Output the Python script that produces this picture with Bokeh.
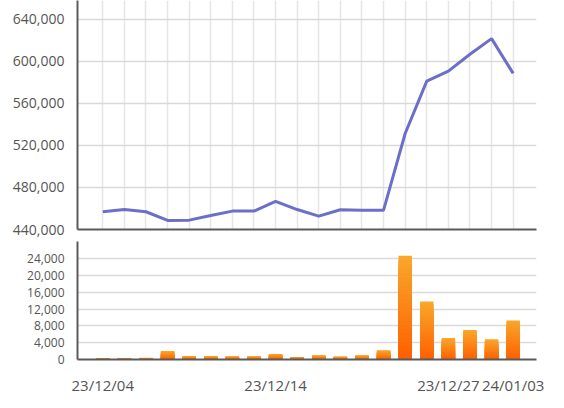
import numpy as np
from bokeh.plotting import figure
from bokeh.layouts import column
from bokeh.models import FixedTicker, NumeralTickFormatter, ColumnDataSource
from bokeh.embed import file_html
from bokeh.resources import INLINE

dates = ["23/12/04", "23/12/05", "23/12/06", "23/12/07", "23/12/08",
         "23/12/11", "23/12/12", "23/12/13", "23/12/14", "23/12/15",
         "23/12/18", "23/12/19", "23/12/20", "23/12/21", "23/12/22",
         "23/12/26", "23/12/27", "23/12/28", "24/01/02", "24/01/03"]
price = [456900, 459100, 456900, 448600, 448900, 453400, 457500, 457500, 466700, 459000,
         452700, 458800, 458400, 458400, 531400, 581300, 590800, 606800, 621700, 588600]
volume = [300, 350, 400, 2000, 800, 800, 750, 750, 1300, 600,
          1000, 700, 1000, 2200, 24700, 13800, 5100, 7000, 4800, 9300]
price_ticks = [440000, 480000, 520000, 560000, 600000, 640000]
volume_ticks = [0, 4000, 8000, 12000, 16000, 20000, 24000]
label_idx = [0, 8, 16, 19]

FONT = "Open Sans"
AXIS = "#5a5a5a"
TXT = "#555555"
x = list(range(len(dates)))
xr = (-1.17, 20.08)

top = figure(width=564, height=241, output_backend="svg", toolbar_location=None,
             x_range=xr, y_range=(440000, 658000),
             min_border_left=77, min_border_right=28, min_border_top=0, min_border_bottom=12)
top.outline_line_color = None
top.line(x, price, line_color="#6b6fc8", line_width=3)
top.yaxis.ticker = FixedTicker(ticks=price_ticks)
top.yaxis.formatter = NumeralTickFormatter(format="0,0")
top.xaxis.ticker = FixedTicker(ticks=[])
top.xaxis.major_label_text_font_size = "0px"
top.xgrid.ticker = FixedTicker(ticks=x)
top.xgrid.grid_line_color = "#e6e6e6"
top.xgrid.grid_line_width = 1.5
top.ygrid.grid_line_color = "#d9d9d9"
top.ygrid.grid_line_width = 1.5
for ax in (top.xaxis[0], top.yaxis[0]):
    ax.axis_line_color = AXIS
    ax.axis_line_width = 2
    ax.major_tick_out = 0
    ax.major_tick_in = 0
    ax.minor_tick_out = 0
    ax.minor_tick_in = 0
top.yaxis.major_label_text_font = FONT
top.yaxis.major_label_text_font_size = "14px"
top.yaxis.major_label_text_color = TXT
top.yaxis.major_label_standoff = 13

bot = figure(width=564, height=166, output_backend="svg", toolbar_location=None,
             x_range=xr, y_range=(0, 28100),
             min_border_left=77, min_border_right=28, min_border_top=0, min_border_bottom=48)
bot.outline_line_color = None
# vertical gradient per bar (light orange at top -> red-orange at bottom),
# drawn as overlapping bars from the base so that no seams show
N = 24
c_top = np.array([0xf9, 0xa8, 0x2c])
c_bot = np.array([0xff, 0x60, 0x00])
xs, tops, cols = [], [], []
for k in range(N):
    frac = (N - k) / N
    t = (N - k - 0.5) / N
    c = (c_bot * (1 - t) + c_top * t).astype(int)
    for i, v in enumerate(volume):
        xs.append(i)
        tops.append(v * frac)
        cols.append("#%02x%02x%02x" % tuple(c))
src = ColumnDataSource(dict(x=xs, t=tops, c=cols))
bot.vbar(x="x", bottom=0, top="t", width=0.62, fill_color="c", line_color=None, source=src)
bot.yaxis.ticker = FixedTicker(ticks=volume_ticks)
bot.yaxis.formatter = NumeralTickFormatter(format="0,0")
bot.xaxis.ticker = FixedTicker(ticks=label_idx)
bot.xaxis.major_label_overrides = {i: dates[i] for i in label_idx}
bot.xgrid.grid_line_color = None
bot.ygrid.grid_line_color = "#d9d9d9"
bot.ygrid.grid_line_width = 1.5
for ax in (bot.xaxis[0], bot.yaxis[0]):
    ax.axis_line_color = AXIS
    ax.axis_line_width = 2
    ax.major_tick_out = 0
    ax.major_tick_in = 0
    ax.minor_tick_out = 0
    ax.minor_tick_in = 0
    ax.major_label_text_font = FONT
    ax.major_label_text_color = TXT
bot.yaxis.major_label_text_font_size = "12px"
bot.yaxis.major_label_standoff = 13
bot.xaxis.major_label_text_font_size = "15px"
bot.xaxis.major_label_standoff = 15

layout = column(top, bot, spacing=0)
open("out.html", "w").write(file_html(layout, INLINE))
